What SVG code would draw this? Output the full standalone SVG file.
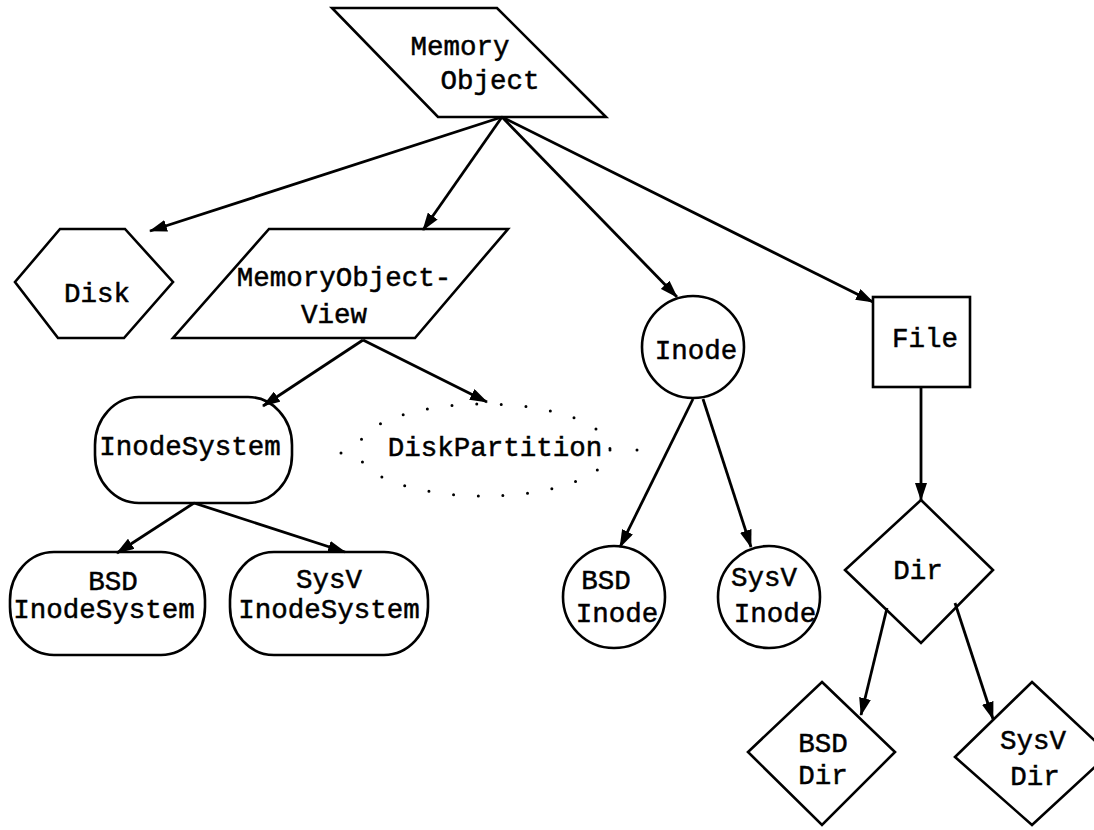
<svg xmlns="http://www.w3.org/2000/svg" width="1094" height="830" viewBox="0 0 1094 830">
<defs>
<style>
.n{fill:none;stroke:#000;stroke-width:2.6;stroke-linejoin:miter}
.t{font-family:"Liberation Mono","DejaVu Sans Mono",monospace;font-size:27.5px;fill:#000;text-anchor:middle;stroke:#000;stroke-width:0.5}
.e{fill:none;stroke:#000;stroke-width:2.8;marker-end:url(#ah)}
.dot{fill:#000}
</style>
<marker id="ah" viewBox="0 0 18 12" refX="17" refY="6" markerWidth="18" markerHeight="12" markerUnits="userSpaceOnUse" orient="auto">
<path d="M0,0 L18,6 L0,12 z" fill="#000"/>
</marker>
</defs>
<rect width="1094" height="830" fill="#fff"/>
<g id="connectors">
<line class="e" x1="502" y1="117" x2="150" y2="231"/>
<line class="e" x1="502" y1="117" x2="423" y2="230"/>
<line class="e" x1="502" y1="117" x2="677" y2="297"/>
<line class="e" x1="502" y1="117" x2="873" y2="302"/>
<line class="e" x1="363" y1="340" x2="263" y2="406"/>
<line class="e" x1="363" y1="340" x2="487" y2="402"/>
<line class="e" x1="194" y1="503" x2="117" y2="553"/>
<line class="e" x1="194" y1="503" x2="345" y2="552"/>
<line class="e" x1="693" y1="399" x2="620" y2="547"/>
<line class="e" x1="703" y1="399" x2="751" y2="547"/>
<line class="e" x1="921" y1="387" x2="921" y2="500"/>
<line class="e" x1="887" y1="608" x2="861" y2="715"/>
<line class="e" x1="955" y1="603" x2="993" y2="719"/>
</g>
<g id="memory-object">
<polygon class="n" points="332,8 497,8 606,117 438,117"/>
<text class="t" x="460" y="55">Memory</text>
<text class="t" x="490" y="89">Object</text>
</g>
<g id="disk">
<polygon class="n" points="60,229 125,229 173,282 124,338 58,338 15,282"/>
<text class="t" x="97" y="302">Disk</text>
</g>
<g id="memory-object-view">
<polygon class="n" points="269,229 508,229 415,338 173,338"/>
<text class="t" x="344" y="286">MemoryObject-</text>
<text class="t" x="334" y="323">View</text>
</g>
<g id="inode-system">
<rect class="n" x="95" y="397" width="197" height="106" rx="44" ry="48"/>
<text class="t" x="190" y="455">InodeSystem</text>
</g>
<g id="disk-partition">
<ellipse cx="484" cy="450" rx="126" ry="46" fill="none" stroke="#000" stroke-width="3" stroke-linecap="round" stroke-dasharray="0 24.7"/>
<circle class="dot" cx="341" cy="453" r="1.5"/>
<circle class="dot" cx="637" cy="450" r="1.5"/>
<text class="t" x="495" y="456">DiskPartition</text>
</g>
<g id="bsd-inode-system">
<rect class="n" x="10" y="552" width="195" height="103" rx="44" ry="48"/>
<text class="t" x="113" y="590">BSD</text>
<text class="t" x="104" y="618">InodeSystem</text>
</g>
<g id="sysv-inode-system">
<rect class="n" x="230" y="552" width="198" height="103" rx="44" ry="48"/>
<text class="t" x="329" y="588">SysV</text>
<text class="t" x="329" y="618">InodeSystem</text>
</g>
<g id="inode">
<circle class="n" cx="693" cy="347" r="51"/>
<text class="t" x="696" y="359">Inode</text>
</g>
<g id="bsd-inode">
<circle class="n" cx="614" cy="597" r="51"/>
<text class="t" x="606" y="589">BSD</text>
<text class="t" x="617" y="622">Inode</text>
</g>
<g id="sysv-inode">
<circle class="n" cx="769" cy="597" r="51"/>
<text class="t" x="764" y="586">SysV</text>
<text class="t" x="775" y="622">Inode</text>
</g>
<g id="file">
<rect class="n" x="873" y="297" width="97" height="90"/>
<text class="t" x="925" y="347">File</text>
</g>
<g id="dir">
<polygon class="n" points="921,500 993,570 921,643 845,570"/>
<text class="t" x="918" y="579">Dir</text>
</g>
<g id="bsd-dir">
<polygon class="n" points="822,682 895,752 822,825 748,752"/>
<text class="t" x="823" y="752">BSD</text>
<text class="t" x="823" y="784">Dir</text>
</g>
<g id="sysv-dir">
<polygon class="n" points="1032,682 1109,754 1032,825 955,757"/>
<text class="t" x="1033" y="749">SysV</text>
<text class="t" x="1035" y="785">Dir</text>
</g>
</svg>
